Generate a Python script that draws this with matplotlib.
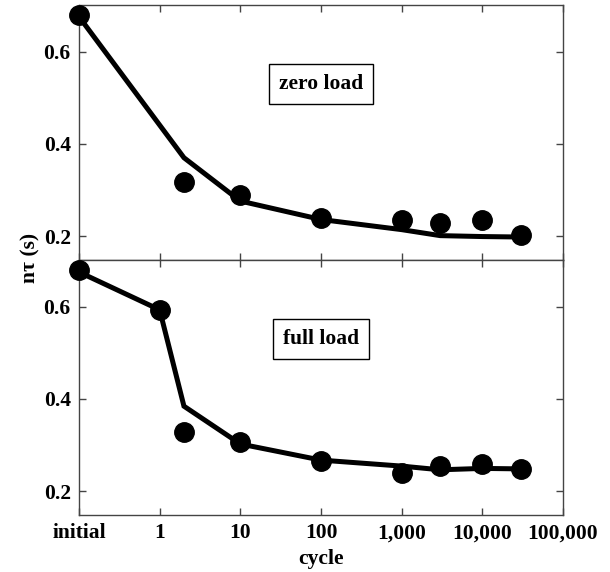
import matplotlib
matplotlib.use("Agg")
import matplotlib.pyplot as plt

plt.rcParams['font.family'] = ['Liberation Serif', 'DejaVu Serif']
plt.rcParams['font.weight'] = 'bold'

# x positions: "initial" is plotted at 0.1 on the log axis
cycles = [0.1, 1, 2, 10, 100, 1000, 3000, 10000, 30000]
tick_pos = [0.1, 1, 10, 100, 1000, 10000, 100000]
tick_labels = ['initial', '1', '10', '100', '1,000', '10,000', '100,000']

# zero load (no point at cycle 1)
zero_x = [0.1, 2, 10, 100, 1000, 3000, 10000, 30000]
zero_pts = [0.680, 0.318, 0.289, 0.240, 0.234, 0.229, 0.234, 0.202]
zero_fit = [0.676, 0.370, 0.276, 0.236, 0.214, 0.201, 0.199, 0.198]

# full load
full_x = cycles
full_pts = [0.679, 0.593, 0.329, 0.307, 0.265, 0.238, 0.254, 0.259, 0.248]
full_fit = [0.675, 0.593, 0.384, 0.302, 0.267, 0.254, 0.246, 0.249, 0.248]

fig, (ax1, ax2) = plt.subplots(2, 1, sharex=True, figsize=(6.1, 5.72), dpi=100)
fig.subplots_adjust(left=0.1295, right=0.923, top=0.991, bottom=0.0997, hspace=0)

panels = [(ax1, zero_x, zero_pts, zero_fit, 'zero load'),
          (ax2, full_x, full_pts, full_fit, 'full load')]
for ax, xs, pts, fit, name in panels:
    ax.plot(xs, fit, color='black', lw=3.6, solid_joinstyle='miter', zorder=2)
    ax.plot(xs, pts, 'o', color='black', ms=14, clip_on=False, zorder=3)
    ax.set_xscale('log')
    ax.set_xlim(0.1, 100000)
    ax.set_ylim(0.148, 0.701)
    ax.set_yticks([0.2, 0.4, 0.6])
    ax.set_yticklabels(['0.2', '0.4', '0.6'])
    ax.minorticks_off()
    ax.tick_params(direction='in', length=5, width=1, top=True, right=True,
                   labelsize=15.5, pad=6, color='#444444')
    for sp in ax.spines.values():
        sp.set_color('#444444')
        sp.set_linewidth(1)
    ax.text(100, 0.53, name, ha='center', va='center', fontsize=15.5, fontweight='bold',
            bbox=dict(boxstyle='square,pad=0.45', fc='white', ec='black', lw=1))

ax2.set_xticks(tick_pos)
ax2.set_xticklabels(tick_labels)
ax2.minorticks_off()
ax2.set_xlabel('cycle', fontsize=15.5, fontweight='bold', labelpad=4)
fig.text(0.05, 0.549, 'n\u03c4 (s)', rotation=90, ha='center', va='center',
         fontsize=15.5, fontweight='bold')

fig.savefig('out.png', dpi=100)
